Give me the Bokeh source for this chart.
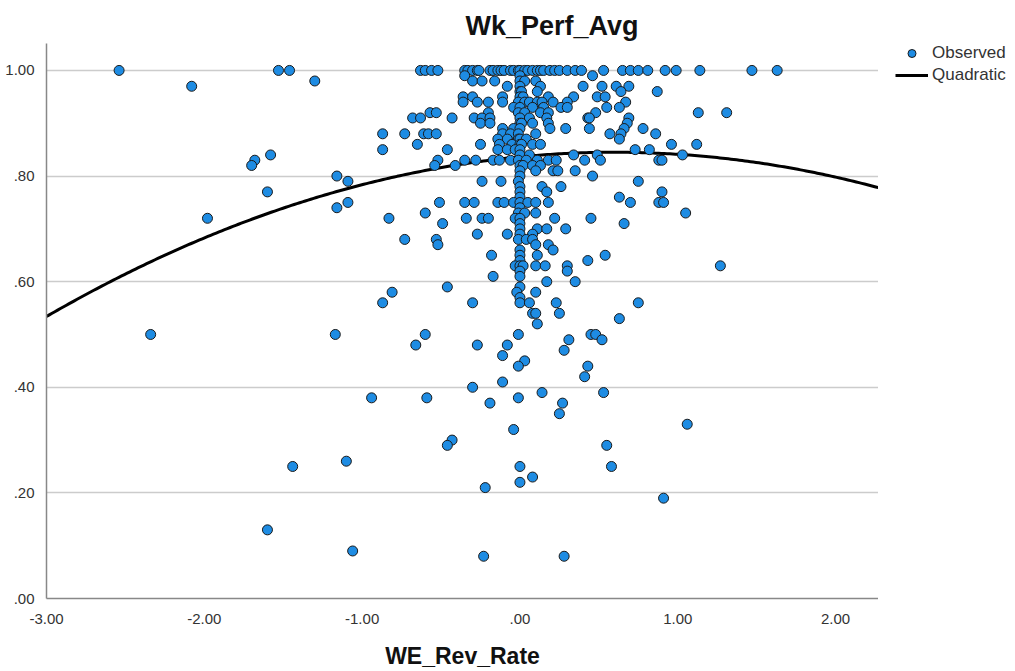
import numpy as np
from bokeh.plotting import figure
from bokeh.layouts import row
from bokeh.models import Range1d, FixedTicker, Legend, LegendItem, ColumnDataSource
from bokeh.embed import file_html
from bokeh.resources import INLINE

# ---- data (one line per Wk_Perf_Avg level) ----
we_rev_rate = [
    -2.54, -1.53, -1.46, -0.63, -0.60, -0.56, -0.52, -0.35, -0.33, -0.30,
    -0.27, -0.26, -0.19, -0.17, -0.14, -0.12, -0.10, -0.06, -0.04, -0.01,
    0.00, 0.03, 0.05, 0.08, 0.11, 0.13, 0.15, 0.19, 0.22, 0.25,
    0.30, 0.35, 0.39, 0.53, 0.65, 0.70, 0.75, 0.81, 0.92, 0.99,
    1.14, 1.47, 1.63,
    -0.35, 0.00, 0.46,
    -1.30, -0.30, -0.24, -0.16, 0.00, 0.03, 0.10,
    -2.08, -0.08, 0.00, 0.13, 0.40, 0.52, 0.61, 0.69,
    0.00, 0.01, 0.11, 0.64, 0.87,
    -0.36, -0.30, -0.11, 0.00, 0.02, 0.18, 0.34, 0.49, 0.54,
    -0.36, -0.27, -0.20, -0.11, -0.01, 0.03, 0.06, 0.11, 0.14, 0.21, 0.30, 0.67,
    -0.04, 0.00, 0.08, 0.15, 0.26, 0.30, 0.55, 0.63,
    -0.57, -0.53, -0.20, -0.01, 0.03, 0.13, 0.18, 0.48, 1.13, 1.31,
    -0.68, -0.63, -0.43, -0.29, -0.24, -0.19, 0.00, 0.06, 0.17, 0.43, 0.44, 0.69,
    -0.25, -0.19, 0.00, 0.01, 0.08, 0.18, 0.68,
    -0.11, -0.04, 0.00, 0.19, 0.29, 0.44, 0.66, 0.78,
    -0.87, -0.73, -0.61, -0.58, -0.53, -0.11, -0.06, -0.01, 0.10, 0.57, 0.64, 0.86,
    -0.14, -0.08, -0.01, 0.00, 0.04, 0.63,
    -0.65, -0.25, -0.13, -0.05, 0.00, 0.01, 0.08, 0.13, 0.96, 1.12,
    -0.87, -0.46, -0.14, -0.08, -0.03, 0.00, 0.73, 0.82,
    -1.58, 0.00, 0.06, 0.34, 0.49, 1.03,
    -1.68, -0.52, -0.35, -0.28, -0.17, -0.13, -0.06, -0.01, 0.04, 0.11, 0.18, 0.23, 0.41, 0.51, 0.88, 0.90,
    -1.70, -0.54, -0.41, 0.00, 0.02, 0.08, 0.13,
    0.00, 0.10, 0.21, 0.24, 0.35,
    -1.16, 0.00, 0.46,
    -1.09, -0.24, -0.12, -0.01, 0.75,
    0.00, 0.14, 0.26,
    -1.60, 0.00, 0.17, 0.90,
    0.00, 0.63,
    -1.09, -0.51, -0.35, -0.29, -0.14, -0.10, -0.04, 0.00, 0.05, 0.10, 0.18, 0.70, 0.88, 0.91,
    -1.16, 0.00,
    -0.60, -0.01, 0.03, 0.10, 1.05,
    -1.98, -0.83, -0.34, -0.24, -0.20, -0.03, 0.00, 0.22, 0.45,
    -0.49, 0.00, 0.66,
    0.00, 0.11, 0.17, 0.29,
    -0.27, -0.08, 0.00, 0.08,
    -0.73, -0.53, -0.01, 0.04, 0.08,
    -0.52, 0.10, 0.18,
    0.00, 0.21,
    -0.18, 0.00, 0.11, 0.54,
    0.00, 0.43,
    -0.03, 0.00, 0.02, 0.10, 0.16, 0.30, 1.27,
    0.00, 0.30,
    -0.17, 0.00,
    0.17, 0.35,
    -0.46, 0.00,
    -0.81, -0.02, 0.10,
    0.00,
    -0.87, -0.30, 0.00, 0.06, 0.23, 0.75,
    0.08, 0.10, 0.25,
    0.63,
    0.11,
    -2.34, -1.17, -0.60, -0.01, 0.45, 0.48,
    0.31, 0.52,
    -0.66, -0.27, -0.08,
    0.28,
    -0.11,
    0.03,
    -0.01, 0.43,
    0.41,
    -0.11,
    -0.30,
    0.14, 0.53,
    -0.94, -0.59, -0.01,
    -0.19, 0.27,
    0.25,
    1.06,
    -0.04,
    -0.43,
    -0.46, 0.55,
    -1.10,
    -1.44, 0.00, 0.58,
    0.08,
    0.00,
    -0.22,
    0.91,
    -1.60,
    -1.06,
    -0.23, 0.28,
]

wk_perf_avg = [
    1.00, 1.00, 1.00, 1.00, 1.00, 1.00, 1.00, 1.00, 1.00, 1.00,
    1.00, 1.00, 1.00, 1.00, 1.00, 1.00, 1.00, 1.00, 1.00, 1.00,
    1.00, 1.00, 1.00, 1.00, 1.00, 1.00, 1.00, 1.00, 1.00, 1.00,
    1.00, 1.00, 1.00, 1.00, 1.00, 1.00, 1.00, 1.00, 1.00, 1.00,
    1.00, 1.00, 1.00,
    0.99, 0.99, 0.99,
    0.98, 0.98, 0.98, 0.98, 0.98, 0.98, 0.98,
    0.97, 0.97, 0.97, 0.97, 0.97, 0.97, 0.97, 0.97,
    0.96, 0.96, 0.96, 0.96, 0.96,
    0.95, 0.95, 0.95, 0.95, 0.95, 0.95, 0.95, 0.95, 0.95,
    0.94, 0.94, 0.94, 0.94, 0.94, 0.94, 0.94, 0.94, 0.94, 0.94, 0.94, 0.94,
    0.93, 0.93, 0.93, 0.93, 0.93, 0.93, 0.93, 0.93,
    0.92, 0.92, 0.92, 0.92, 0.92, 0.92, 0.92, 0.92, 0.92, 0.92,
    0.91, 0.91, 0.91, 0.91, 0.91, 0.91, 0.91, 0.91, 0.91, 0.91, 0.91, 0.91,
    0.90, 0.90, 0.90, 0.90, 0.90, 0.90, 0.90,
    0.89, 0.89, 0.89, 0.89, 0.89, 0.89, 0.89, 0.89,
    0.88, 0.88, 0.88, 0.88, 0.88, 0.88, 0.88, 0.88, 0.88, 0.88, 0.88, 0.88,
    0.87, 0.87, 0.87, 0.87, 0.87, 0.87,
    0.86, 0.86, 0.86, 0.86, 0.86, 0.86, 0.86, 0.86, 0.86, 0.86,
    0.85, 0.85, 0.85, 0.85, 0.85, 0.85, 0.85, 0.85,
    0.84, 0.84, 0.84, 0.84, 0.84, 0.84,
    0.83, 0.83, 0.83, 0.83, 0.83, 0.83, 0.83, 0.83, 0.83, 0.83, 0.83, 0.83, 0.83, 0.83, 0.83, 0.83,
    0.82, 0.82, 0.82, 0.82, 0.82, 0.82, 0.82,
    0.81, 0.81, 0.81, 0.81, 0.81,
    0.80, 0.80, 0.80,
    0.79, 0.79, 0.79, 0.79, 0.79,
    0.78, 0.78, 0.78,
    0.77, 0.77, 0.77, 0.77,
    0.76, 0.76,
    0.75, 0.75, 0.75, 0.75, 0.75, 0.75, 0.75, 0.75, 0.75, 0.75, 0.75, 0.75, 0.75, 0.75,
    0.74, 0.74,
    0.73, 0.73, 0.73, 0.73, 0.73,
    0.72, 0.72, 0.72, 0.72, 0.72, 0.72, 0.72, 0.72, 0.72,
    0.71, 0.71, 0.71,
    0.70, 0.70, 0.70, 0.70,
    0.69, 0.69, 0.69, 0.69,
    0.68, 0.68, 0.68, 0.68, 0.68,
    0.67, 0.67, 0.67,
    0.66, 0.66,
    0.65, 0.65, 0.65, 0.65,
    0.64, 0.64,
    0.63, 0.63, 0.63, 0.63, 0.63, 0.63, 0.63,
    0.62, 0.62,
    0.61, 0.61,
    0.60, 0.60,
    0.59, 0.59,
    0.58, 0.58, 0.58,
    0.57,
    0.56, 0.56, 0.56, 0.56, 0.56, 0.56,
    0.54, 0.54, 0.54,
    0.53,
    0.52,
    0.50, 0.50, 0.50, 0.50, 0.50, 0.50,
    0.49, 0.49,
    0.48, 0.48, 0.48,
    0.47,
    0.46,
    0.45,
    0.44, 0.44,
    0.42,
    0.41,
    0.40,
    0.39, 0.39,
    0.38, 0.38, 0.38,
    0.37, 0.37,
    0.35,
    0.33,
    0.32,
    0.30,
    0.29, 0.29,
    0.26,
    0.25, 0.25, 0.25,
    0.23,
    0.22,
    0.21,
    0.19,
    0.13,
    0.09,
    0.08, 0.08,
]

assert len(we_rev_rate) == len(wk_perf_avg)

# quadratic fit (coefficients)
quad_b0 = 0.8364
quad_b1 = 0.0288
quad_b2 = -0.0240

x_ticks = [-3, -2, -1, 0, 1, 2]
x_tick_labels = ["-3.00", "-2.00", "-1.00", ".00", "1.00", "2.00"]
y_ticks = [0, 0.2, 0.4, 0.6, 0.8, 1.0]
y_tick_labels = [".00", ".20", ".40", ".60", ".80", "1.00"]

X_MIN, X_MAX = -3.0, 2.272
Y_MIN, Y_MAX = 0.0, 1.051

FONT = "Liberation Sans"
POINT_FILL = "#1E8CE3"
POINT_LINE = "#1a1a1a"

p = figure(width=878, height=671, x_range=Range1d(X_MIN, X_MAX),
           y_range=Range1d(Y_MIN, Y_MAX), output_backend="svg",
           toolbar_location=None, min_border_left=46, min_border_right=0,
           min_border_top=42, min_border_bottom=72)

p.background_fill_color = "white"
p.border_fill_color = "white"
p.outline_line_color = None

p.title.text = "Wk_Perf_Avg"
p.title.text_font = FONT
p.title.text_font_size = "27px"
p.title.text_font_style = "bold"
p.title.text_color = "#111111"
p.title.align = "left"
p.title.offset = 419
p.title.standoff = 6

# axes
p.xaxis.ticker = FixedTicker(ticks=x_ticks)
p.xaxis.major_label_overrides = dict(zip(x_ticks, x_tick_labels))
p.yaxis.ticker = FixedTicker(ticks=y_ticks)
p.yaxis.major_label_overrides = dict(zip(y_ticks, y_tick_labels))
for ax in (p.xaxis[0], p.yaxis[0]):
    ax.axis_line_color = "#888888"
    ax.axis_line_width = 1.5
    ax.major_tick_line_color = None
    ax.minor_tick_line_color = None
    ax.major_label_text_font = FONT
    ax.major_label_text_font_size = "15px"
    ax.major_label_text_color = "#333333"
p.xaxis.major_label_standoff = 9
p.yaxis.major_label_standoff = 6
p.xaxis.axis_label = "WE_Rev_Rate"
p.xaxis.axis_label_text_font = FONT
p.xaxis.axis_label_text_font_size = "23px"
p.xaxis.axis_label_text_font_style = "bold"
p.xaxis.axis_label_text_color = "#111111"
p.xaxis.axis_label_standoff = 16

p.xgrid.visible = False
p.ygrid.ticker = FixedTicker(ticks=[0.2, 0.4, 0.6, 0.8, 1.0])
p.ygrid.grid_line_color = "#cccccc"
p.ygrid.grid_line_width = 1.5

# quadratic curve
curve_x = np.linspace(X_MIN, X_MAX, 300)
curve_y = quad_b0 + quad_b1 * curve_x + quad_b2 * curve_x ** 2
p.line(curve_x, curve_y, line_color="black", line_width=3)

src = ColumnDataSource(data=dict(x=we_rev_rate, y=wk_perf_avg))
p.scatter("x", "y", source=src, marker="circle", size=10,
          fill_color=POINT_FILL, line_color=POINT_LINE, line_width=1)

# ---- legend panel to the right of the plot area ----
# the proxy renderers reuse a data point / curve piece that falls outside this
# panel's 0..1 ranges, so they are never drawn; only their legend swatches show
leg = figure(width=137, height=671, output_backend="svg", toolbar_location=None,
             x_axis_type=None, y_axis_type=None,
             min_border_left=17, min_border_top=43, min_border_right=0,
             min_border_bottom=0, x_range=Range1d(0, 1), y_range=Range1d(0, 1))
leg.outline_line_color = None
leg.xgrid.visible = False
leg.ygrid.visible = False
leg_pts = leg.scatter(x=we_rev_rate[:1], y=wk_perf_avg[:1], marker="circle", size=10,
                      fill_color=POINT_FILL, line_color=POINT_LINE, line_width=1)
leg_line = leg.line(x=list(curve_x[:2]), y=list(curve_y[:2]),
                    line_color="black", line_width=3)

legend = Legend(items=[LegendItem(label="Observed", renderers=[leg_pts]),
                       LegendItem(label="Quadratic", renderers=[leg_line])],
                location="top_left")
legend.glyph_width = 33
legend.glyph_height = 20
legend.label_standoff = 4
legend.spacing = 2
legend.padding = 0
legend.margin = 0
legend.border_line_color = None
legend.background_fill_alpha = 0
legend.label_text_font = FONT
legend.label_text_font_size = "17px"
legend.label_text_color = "#333333"
legend.label_height = 20
leg.add_layout(legend, "center")

layout = row(p, leg, spacing=0)
open("out.html", "w").write(file_html(layout, INLINE))
